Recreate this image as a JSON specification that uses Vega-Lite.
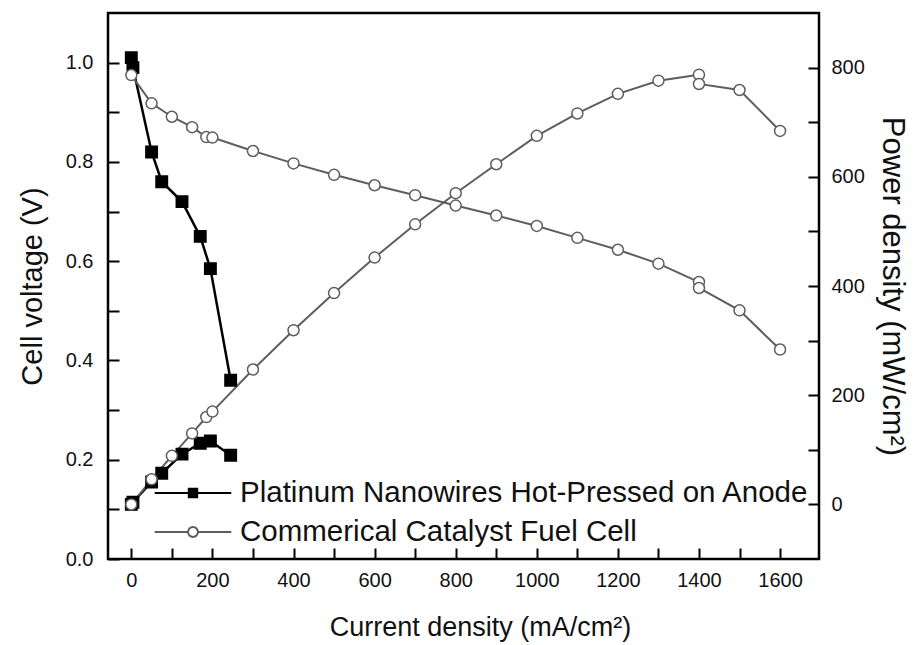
{
  "$schema": "https://vega.github.io/schema/vega-lite/v6.json",
  "width": 711,
  "height": 546,
  "autosize": "none",
  "padding": {"left": 108, "top": 13, "right": 98, "bottom": 86},
  "background": "white",
  "config": {
    "font": "Liberation Sans",
    "view": {"stroke": "black", "strokeWidth": 2.5},
    "axis": {
      "domain": false,
      "tickColor": "black",
      "tickWidth": 2,
      "ticks": true,
      "labelFontSize": 20,
      "labelColor": "#111",
      "labelFont": "Liberation Sans",
      "titleFont": "Liberation Sans",
      "titleFontSize": 27,
      "titleFontWeight": "normal",
      "titleColor": "#111",
      "grid": false
    }
  },
  "datasets": {
    "d": [
      {"s": "Platinum Nanowires Hot-Pressed on Anode", "I": 0, "V": 1.01, "P": 0},
      {"s": "Platinum Nanowires Hot-Pressed on Anode", "I": 4, "V": 0.99, "P": 4},
      {"s": "Platinum Nanowires Hot-Pressed on Anode", "I": 50, "V": 0.82, "P": 41},
      {"s": "Platinum Nanowires Hot-Pressed on Anode", "I": 75, "V": 0.76, "P": 57},
      {"s": "Platinum Nanowires Hot-Pressed on Anode", "I": 125, "V": 0.72, "P": 92},
      {"s": "Platinum Nanowires Hot-Pressed on Anode", "I": 170, "V": 0.65, "P": 112},
      {"s": "Platinum Nanowires Hot-Pressed on Anode", "I": 195, "V": 0.585, "P": 116},
      {"s": "Platinum Nanowires Hot-Pressed on Anode", "I": 245, "V": 0.36, "P": 90},
      {"s": "Commerical Catalyst Fuel Cell", "I": 0, "V": 0.975, "P": 0},
      {"s": "Commerical Catalyst Fuel Cell", "I": 50, "V": 0.918, "P": 46},
      {"s": "Commerical Catalyst Fuel Cell", "I": 100, "V": 0.891, "P": 89},
      {"s": "Commerical Catalyst Fuel Cell", "I": 150, "V": 0.87, "P": 130},
      {"s": "Commerical Catalyst Fuel Cell", "I": 185, "V": 0.85, "P": 160},
      {"s": "Commerical Catalyst Fuel Cell", "I": 200, "V": 0.849, "P": 170},
      {"s": "Commerical Catalyst Fuel Cell", "I": 300, "V": 0.822, "P": 247},
      {"s": "Commerical Catalyst Fuel Cell", "I": 400, "V": 0.797, "P": 319},
      {"s": "Commerical Catalyst Fuel Cell", "I": 500, "V": 0.774, "P": 387},
      {"s": "Commerical Catalyst Fuel Cell", "I": 600, "V": 0.753, "P": 452},
      {"s": "Commerical Catalyst Fuel Cell", "I": 700, "V": 0.733, "P": 513},
      {"s": "Commerical Catalyst Fuel Cell", "I": 800, "V": 0.712, "P": 570},
      {"s": "Commerical Catalyst Fuel Cell", "I": 900, "V": 0.692, "P": 623},
      {"s": "Commerical Catalyst Fuel Cell", "I": 1000, "V": 0.671, "P": 675},
      {"s": "Commerical Catalyst Fuel Cell", "I": 1100, "V": 0.647, "P": 716},
      {"s": "Commerical Catalyst Fuel Cell", "I": 1200, "V": 0.623, "P": 752},
      {"s": "Commerical Catalyst Fuel Cell", "I": 1300, "V": 0.595, "P": 776},
      {"s": "Commerical Catalyst Fuel Cell", "I": 1400, "V": 0.558, "P": 787},
      {"s": "Commerical Catalyst Fuel Cell", "I": 1400, "V": 0.546, "P": 770},
      {"s": "Commerical Catalyst Fuel Cell", "I": 1500, "V": 0.501, "P": 759},
      {"s": "Commerical Catalyst Fuel Cell", "I": 1600, "V": 0.422, "P": 684}
    ]
  },
  "data": {"name": "d"},
  "layer": [
    {
      "mark": {"type": "line", "interpolate": "linear"},
      "encoding": {
        "x": {
          "field": "I",
          "type": "quantitative",
          "scale": {"domain": [-57.5, 1696], "nice": false, "zero": false},
          "axis": {
            "title": "Current density (mA/cm²)",
            "values": [0, 100, 200, 300, 400, 500, 600, 700, 800, 900, 1000, 1100, 1200, 1300, 1400, 1500, 1600],
            "format": "d",
            "offset": -11,
            "ticks": true,
            "tickSize": 11,
            "tickColor": "#000000",
            "tickWidth": 2,
            "tickOpacity": 1,
            "zindex": 1,
            "labelExpr": "datum.value % 200 === 0 ? datum.label : ''",
            "labelPadding": 11,
            "titlePadding": 24,
            "titleX": 372,
            "labelFlush": false
          }
        },
        "y": {
          "field": "V",
          "type": "quantitative",
          "scale": {"domain": [0, 1.1], "nice": false, "zero": false},
          "axis": {
            "orient": "left",
            "title": "Cell voltage (V)",
            "titleFontSize": 29,
            "offset": -11,
            "ticks": true,
            "tickSize": 11,
            "tickColor": "#000000",
            "tickWidth": 2,
            "tickOpacity": 1,
            "zindex": 1,
            "values": [0, 0.1, 0.2, 0.3, 0.4, 0.5, 0.6, 0.7, 0.8, 0.9, 1.0],
            "labelExpr": "round(datum.value * 10) % 2 === 0 ? format(datum.value, '.1f') : ''",
            "labelPadding": 15,
            "titlePadding": 18,
            "labelFlush": false
          }
        },
        "detail": {"field": "s", "type": "nominal"},
        "stroke": {"condition": {"test": "datum.s === 'Commerical Catalyst Fuel Cell'", "value": "#5e5e5e"}, "value": "#000000"},
        "strokeWidth": {"condition": {"test": "datum.s === 'Commerical Catalyst Fuel Cell'", "value": 2}, "value": 2.5}
      }
    },
    {
      "mark": {"type": "line", "interpolate": "linear"},
      "encoding": {
        "x": {"field": "I", "type": "quantitative", "scale": {"domain": [-57.5, 1696], "nice": false, "zero": false}},
        "y": {
          "field": "P",
          "type": "quantitative",
          "scale": {"domain": [-100, 900], "nice": false, "zero": false},
          "axis": {
            "orient": "right",
            "title": "Power density (mW/cm²)",
            "titleFontSize": 31,
            "offset": -11,
            "ticks": true,
            "tickSize": 11,
            "tickColor": "#000000",
            "tickWidth": 2,
            "tickOpacity": 1,
            "zindex": 1,
            "values": [0, 100, 200, 300, 400, 500, 600, 700, 800],
            "labelExpr": "datum.value % 200 === 0 ? datum.label : ''",
            "labelPadding": 12,
            "titlePadding": 11,
            "labelFlush": false
          }
        },
        "detail": {"field": "s", "type": "nominal"},
        "stroke": {"condition": {"test": "datum.s === 'Commerical Catalyst Fuel Cell'", "value": "#5e5e5e"}, "value": "#000000"},
        "strokeWidth": {"condition": {"test": "datum.s === 'Commerical Catalyst Fuel Cell'", "value": 2}, "value": 2.5}
      }
    },
    {
      "mark": {"type": "point", "filled": true, "opacity": 1, "strokeWidth": 1.5},
      "encoding": {
        "x": {"field": "I", "type": "quantitative", "scale": {"domain": [-57.5, 1696], "nice": false, "zero": false}},
        "y": {"field": "V", "type": "quantitative", "scale": {"domain": [0, 1.1], "nice": false, "zero": false}, "axis": null},
        "shape": {"condition": {"test": "datum.s === 'Commerical Catalyst Fuel Cell'", "value": "circle"}, "value": "square"},
        "size": {"condition": {"test": "datum.s === 'Commerical Catalyst Fuel Cell'", "value": 121}, "value": 130},
        "fill": {"condition": {"test": "datum.s === 'Commerical Catalyst Fuel Cell'", "value": "#ffffff"}, "value": "#000000"},
        "stroke": {"condition": {"test": "datum.s === 'Commerical Catalyst Fuel Cell'", "value": "#5e5e5e"}, "value": "#000000"}
      }
    },
    {
      "mark": {"type": "point", "filled": true, "opacity": 1, "strokeWidth": 1.5},
      "encoding": {
        "x": {"field": "I", "type": "quantitative", "scale": {"domain": [-57.5, 1696], "nice": false, "zero": false}},
        "y": {"field": "P", "type": "quantitative", "scale": {"domain": [-100, 900], "nice": false, "zero": false}, "axis": null},
        "shape": {"condition": {"test": "datum.s === 'Commerical Catalyst Fuel Cell'", "value": "circle"}, "value": "square"},
        "size": {"condition": {"test": "datum.s === 'Commerical Catalyst Fuel Cell'", "value": 121}, "value": 130},
        "fill": {"condition": {"test": "datum.s === 'Commerical Catalyst Fuel Cell'", "value": "#ffffff"}, "value": "#000000"},
        "stroke": {"condition": {"test": "datum.s === 'Commerical Catalyst Fuel Cell'", "value": "#5e5e5e"}, "value": "#000000"}
      }
    },
    {
      "transform": [{"filter": "datum.I < -1000"}],
      "mark": {"type": "point", "filled": true, "opacity": 1, "strokeWidth": 2},
      "encoding": {
        "shape": {
          "field": "s",
          "type": "nominal",
          "scale": {
            "domain": ["Platinum Nanowires Hot-Pressed on Anode", "Commerical Catalyst Fuel Cell"],
            "range": [
              "M-2.55,0H2.55M-0.28,-0.28H0.28V0.28H-0.28Z",
              "M-2.55,0H-0.33M0.33,0H2.55M-0.33,0A0.33,0.33 0 1,0 0.33,0A0.33,0.33 0 1,0 -0.33,0Z"
            ]
          },
          "legend": {
            "orient": "none",
            "legendX": 69,
            "legendY": 464,
            "title": null,
            "padding": 0,
            "symbolSize": 900,
            "symbolStrokeWidth": 2,
            "symbolOpacity": 1,
            "labelFontSize": 29.5,
            "labelFont": "Liberation Sans",
            "labelColor": "#111",
            "labelOffset": 31,
            "labelLimit": 800,
            "rowPadding": 8
          }
        },
        "fill": {
          "field": "s",
          "type": "nominal",
          "scale": {
            "domain": ["Platinum Nanowires Hot-Pressed on Anode", "Commerical Catalyst Fuel Cell"],
            "range": ["#000000", "#ffffff"]
          }
        },
        "stroke": {
          "field": "s",
          "type": "nominal",
          "scale": {
            "domain": ["Platinum Nanowires Hot-Pressed on Anode", "Commerical Catalyst Fuel Cell"],
            "range": ["#000000", "#5e5e5e"]
          }
        }
      }
    }
  ],
  "resolve": {"scale": {"y": "independent"}}
}
